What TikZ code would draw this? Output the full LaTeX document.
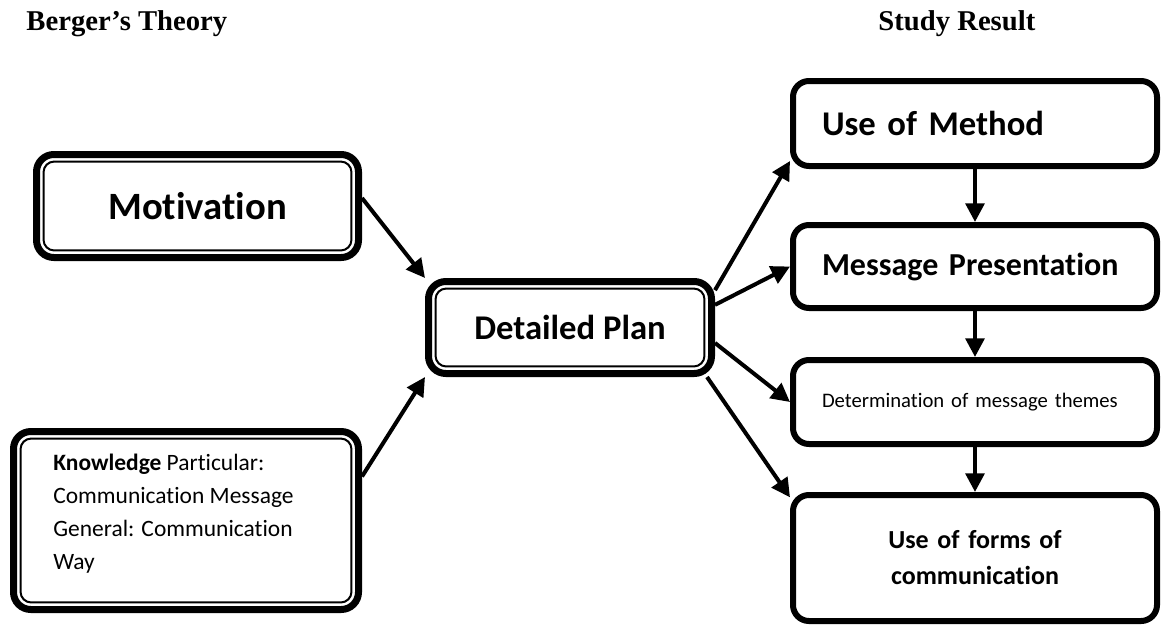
\documentclass[tikz,border=0pt]{standalone}
\usepackage{fontspec}
\setmainfont{Carlito}[Ligatures={NoCommon}]
\newfontfamily\titlefont{Liberation Serif}
\usetikzlibrary{positioning, arrows.meta}

\tikzset{
  box/.style={draw, line width=4.5pt, rounded corners=12pt, minimum width=273pt,
    inner xsep=21.75pt, text width=229.5pt, align=left},
  dbox/.style={draw, line width=5.25pt, rounded corners=13pt, align=center},
  innerline/.style={-, line width=1.5pt, rounded corners=8pt},
  title/.style={anchor=base west, font=\titlefont\bfseries\fontsize{21.5}{24}\selectfont}
}

\begin{document}
\begin{tikzpicture}[>={Triangle[length=14pt, width=14pt]}, line width=3pt, x=0.75pt, y=-0.75pt]
    \useasboundingbox (0,0) rectangle (1161,626);
    \node[title] (theory) at (20,30) {Berger’s Theory};
    \node[title] (result) at (872,30) {Study Result};

    \node[dbox, minimum width=241.5pt, minimum height=77.25pt,
      font=\bfseries\fontsize{29}{32}\selectfont] (mot) at (197.5,206) {Motivation};
    \node[dbox, minimum width=258.75pt, minimum height=133.5pt] (know) at (186,520.5) {};
    \node[anchor=north west, inner sep=0pt, align=left, font=\fontsize{17.6}{24.75}\selectfont]
      (knowtext) at ([shift={(31pt,-18pt)}]know.north west)
      {\textbf{Knowledge} Particular:\\ Communication Message\\ General: Communication\\ Way};
    \node[dbox, minimum width=212.25pt, minimum height=69pt,
      font=\bfseries\fontsize{26}{30}\selectfont] (plan) at (570,327.5) {Detailed Plan};

    \node[box, minimum height=63.75pt, font=\bfseries\fontsize{26}{30}\selectfont] (meth) at (975,123.5) {Use of Method};
    \node[box, minimum height=62.25pt, font=\bfseries\fontsize{24}{28}\selectfont] (pres) at (975,266.5) {Message Presentation};
    \node[box, minimum height=63pt, font=\fontsize{15.5}{18}\selectfont] (theme) at (975,402) {Determination of message themes};
    \node[box, minimum height=94.5pt, align=center,
      font=\bfseries\fontsize{19.5}{27}\selectfont] (forms) at (975,558) {Use of forms of\\ communication};

    % thin inner line of the double frames
    \foreach \n in {mot, know, plan}
      \draw[innerline] ([shift={(7.9pt,-7.9pt)}]\n.north west) rectangle ([shift={(-7.9pt,7.9pt)}]\n.south east);

    \draw[every edge/.append style={->}]
            ([yshift=6pt]mot.east) edge (plan.north west)
            ([yshift=33pt]know.east) edge (plan.south west)
            ([yshift=28pt]plan.east) edge ([yshift=6pt]meth.south west)
            ([yshift=17pt]plan.east) edge (pres.west)
            ([yshift=-11.6pt]plan.east) edge (theme.west)
            ([xshift=-6pt]plan.south east) edge ([yshift=-4pt]forms.north west)
            (meth) edge (pres)
            (pres) edge (theme)
            (theme) edge (forms)
    ;
\end{tikzpicture}
\end{document}
